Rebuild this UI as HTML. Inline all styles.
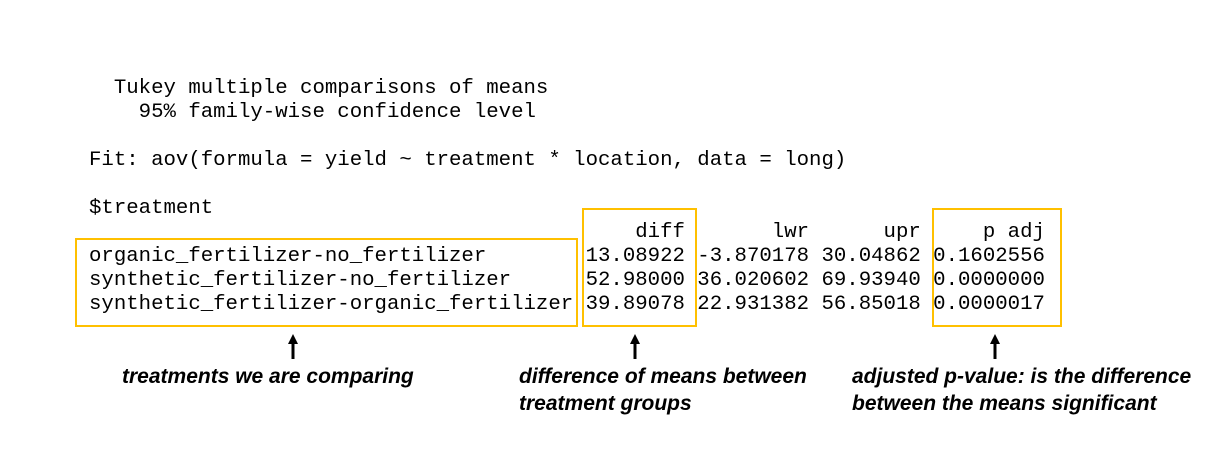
<!DOCTYPE html>
<html><head><meta charset="utf-8"><style>
html,body{margin:0;padding:0;background:#fff;}
#root{position:relative;width:1225px;height:476px;overflow:hidden;background:#fff;}
pre{position:absolute;left:89px;top:77px;margin:0;font-family:"Liberation Mono",monospace;font-size:20.7px;line-height:24px;color:#000;}
.box{position:absolute;border:2px solid #FFC000;box-sizing:border-box;}
.note{position:absolute;font-family:"Liberation Sans",sans-serif;font-weight:bold;font-style:italic;font-size:21px;line-height:27px;color:#000;white-space:nowrap;}
svg{position:absolute;left:0;top:0;}
</style></head><body>
<div id="root">
<pre>  Tukey multiple comparisons of means
    95% family-wise confidence level

Fit: aov(formula = yield ~ treatment * location, data = long)

$treatment
                                            diff       lwr      upr     p adj
organic_fertilizer-no_fertilizer        13.08922 -3.870178 30.04862 0.1602556
synthetic_fertilizer-no_fertilizer      52.98000 36.020602 69.93940 0.0000000
synthetic_fertilizer-organic_fertilizer 39.89078 22.931382 56.85018 0.0000017</pre>
<div class="box" style="left:75px;top:238px;width:503px;height:89px;"></div>
<div class="box" style="left:582px;top:208px;width:115px;height:119px;"></div>
<div class="box" style="left:932px;top:208px;width:130px;height:119px;"></div>
<svg width="1225" height="476">
<g><rect x="291.5" y="342" width="3" height="17" fill="#000"/><polygon points="293,334 288,344 298,344" fill="#000"/></g>
<g><rect x="633.5" y="342" width="3" height="17" fill="#000"/><polygon points="635,334 630,344 640,344" fill="#000"/></g>
<g><rect x="993.5" y="342" width="3" height="17" fill="#000"/><polygon points="995,334 990,344 1000,344" fill="#000"/></g>
</svg>
<div class="note" style="left:122px;top:363px;">treatments we are comparing</div>
<div class="note" style="left:519px;top:363px;">difference of means between<br>treatment groups</div>
<div class="note" style="left:852px;top:363px;">adjusted p-value: is the difference<br>between the means significant</div>
</div>
</body></html>
